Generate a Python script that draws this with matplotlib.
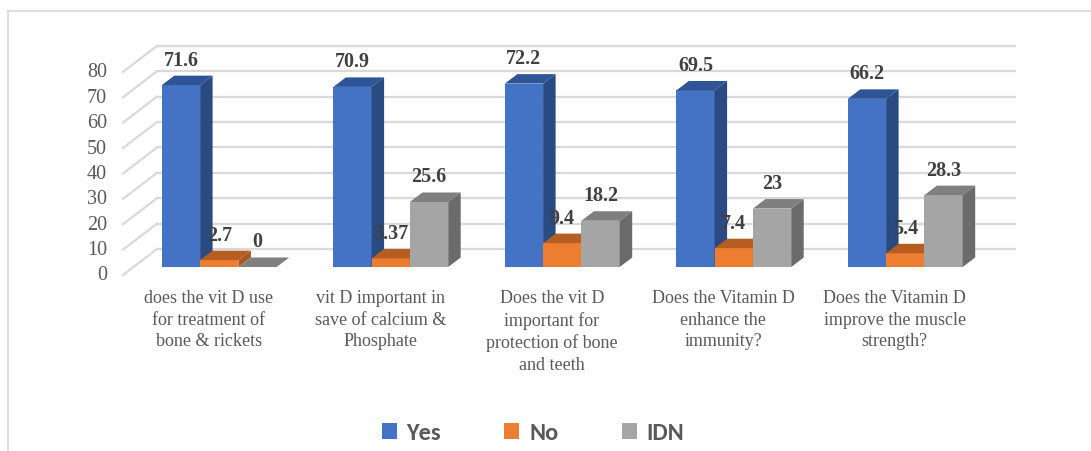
import numpy as np
import matplotlib.pyplot as plt
from matplotlib.patches import Polygon, Patch
from matplotlib.lines import Line2D

categories = ["does the vit D use\nfor treatment of\nbone & rickets",
              "vit D important in\nsave of calcium &\nPhosphate",
              "Does the vit D\nimportant for\nprotection of bone\nand teeth",
              "Does the Vitamin D\nenhance the\nimmunity?",
              "Does the Vitamin D\nimprove the muscle\nstrength?"]
series = ["Yes", "No", "IDN"]
yes = [71.6, 70.9, 72.2, 69.5, 66.2]
no = [2.7, 3.37, 9.4, 7.4, 5.4]
idn = [0, 25.6, 18.2, 23, 28.3]
yticks = [0, 10, 20, 30, 40, 50, 60, 70, 80]

front = ["#4472C4", "#ED7D31", "#A5A5A5"]
top = ["#2F5597", "#B65D22", "#7F7F7F"]
side = ["#2A4A82", "#A9571F", "#6B6B6B"]

serif = ["Liberation Serif", "DejaVu Serif"]
W, H = 1091, 452
fig = plt.figure(figsize=(W / 100, H / 100), dpi=100)
ax = fig.add_axes([0, 0, 1, 1])
ax.axis("off")

# pixel scale of the fake 3d view
px_x, px_v = 171.5, 2.54
x0, v0 = 219.25, 268
ax.set_xlim(-x0 / px_x, (W - x0) / px_x)
ax.set_ylim((v0 - H) / px_v, v0 / px_v)

DX, DY = 34 / px_x, 26 / px_v      # full wall depth
d0 = 8 / 26                         # bars' front plane inside depth
bdx, bdy = 12.5 / px_x, 9.5 / px_v  # bar depth
w = 38.3 / px_x
n = len(categories)
x = np.arange(n)

# walls: back gridlines + left side diagonals
grid_c = "#D9D9D9"
for v in yticks:
    bx = -0.5 + (1 - d0) * DX
    by = v + (1 - d0) * DY
    ax.plot([bx, n - 0.5 + (1 - d0) * DX], [by, by], color=grid_c, lw=1.6, zorder=1)
    ax.plot([-0.5 - d0 * DX, bx], [v - d0 * DY, by], color=grid_c, lw=1.6, zorder=1)
    ax.text(-0.6545, v - d0 * DY, str(v), ha="right", va="center",
            fontsize=14.5, family=serif, color="#595959")

data = [yes, no, idn]
for s, vals in enumerate(data):
    z = 3 + s
    xs = x + (s - 1) * w
    ax.bar(xs, vals, width=w, color=front[s], zorder=z, linewidth=0)
    for xc, v in zip(xs, vals):
        l, r = xc - w / 2, xc + w / 2
        ax.add_patch(Polygon([(l, v), (r, v), (r + bdx, v + bdy), (l + bdx, v + bdy)],
                             closed=True, facecolor=top[s], edgecolor="none", zorder=z))
        if v > 0:
            ax.add_patch(Polygon([(r, 0), (r + bdx, bdy), (r + bdx, v + bdy), (r, v)],
                                 closed=True, facecolor=side[s], edgecolor="none", zorder=z))
        ax.text(xc, v + bdy + 6 / px_v, "%g" % v, ha="center", va="bottom", fontsize=14.5,
                fontweight="bold", family=serif, color="#404040", zorder=10)

for i, c in enumerate(categories):
    ax.text(i - d0 * DX, (v0 - 290) / px_v, c, ha="center", va="top", fontsize=13,
            family=serif, color="#595959", linespacing=1.35)

# outer chart border
ax.add_line(Line2D([8 / W, 8 / W], [0, 1 - 12 / H], transform=fig.transFigure,
                   color="#D9D9D9", lw=1.2))
ax.add_line(Line2D([8 / W, 1], [1 - 12 / H, 1 - 12 / H], transform=fig.transFigure,
                   color="#D9D9D9", lw=1.2))

handles = [Patch(facecolor=front[i], label=series[i]) for i in range(3)]
leg = fig.legend(handles=handles, loc="center", bbox_to_anchor=(533 / W, 1 - 434 / H),
                 ncol=3, frameon=False,
                 prop={"family": ["Carlito", "Lato"], "weight": "bold", "size": 17.5},
                 handlelength=0.62, handleheight=0.62, handletextpad=0.4, columnspacing=2.6,
                 borderpad=0, borderaxespad=0)
for t in leg.get_texts():
    t.set_color("#595959")

plt.savefig("out.png", dpi=100)
